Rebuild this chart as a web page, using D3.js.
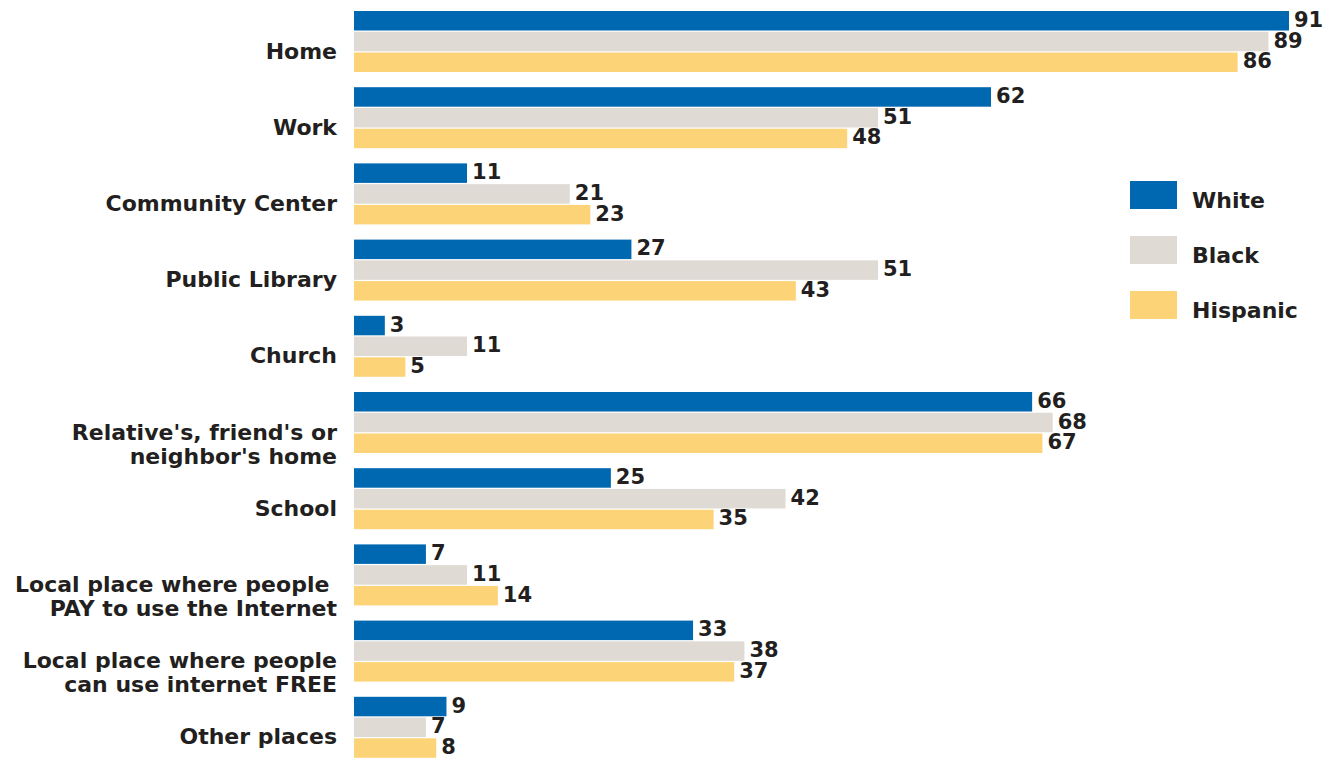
<!DOCTYPE html>
<html><head><meta charset="utf-8">
<script src="https://cdn.jsdelivr.net/npm/d3@7/dist/d3.min.js"></script>
<style>
body{margin:0;background:#fff;}
text{font-family:"DejaVu Sans",sans-serif;font-weight:bold;fill:#231f20;}
</style></head>
<body><svg id="c" width="1334" height="759"></svg>
<script>
const categories = ["Home","Work","Community Center","Public Library","Church","Relative's, friend's or\nneighbor's home","School","Local place where people \nPAY to use the Internet","Local place where people\ncan use internet FREE","Other places"];
const white = [91,62,11,27,3,66,25,7,33,9];
const black = [89,51,21,51,11,68,42,11,38,7];
const hispanic = [86,48,23,43,5,67,35,14,37,8];
const seriesNames = ["White","Black","Hispanic"];
const colors = ["#0068b1","#dfdad4","#fdd378"];

const svg = d3.select("#c");
const x0 = 354;
const x = d3.scaleLinear().domain([0,91]).range([x0,1289]);
const y = d3.scaleBand().domain(categories).range([11,773]).paddingInner(0).paddingOuter(0);
const sub = d3.scaleBand().domain(seriesNames).range([0,61]).paddingInner(0.06);

const series = [white,black,hispanic];
categories.forEach((c,i)=>{
  const g = svg.append("g").attr("transform",`translate(0,${y(c)})`);
  seriesNames.forEach((s,j)=>{
    const v = series[j][i];
    g.append("rect").attr("x",x0).attr("y",sub(s)).attr("width",x(v)-x0).attr("height",sub.bandwidth()).attr("fill",colors[j]);
    g.append("text").attr("x",x(v)+5).attr("y",sub(s)+sub.bandwidth()/2+6).attr("font-size",21).text(v);
  });
  const lines = c.split("\n");
  const cy = y(c)+30.5+9;
  const lh = 24;
  const t = svg.append("text").attr("text-anchor","end").attr("font-size",22);
  lines.forEach((l,k)=>{
    t.append("tspan").attr("x",337).attr("y",cy+8+k*lh).text(l);
  });
});

const lg = svg.append("g");
seriesNames.forEach((s,j)=>{
  lg.append("rect").attr("x",1130).attr("y",181+j*55).attr("width",47).attr("height",28).attr("fill",colors[j]);
  lg.append("text").attr("x",1192).attr("y",208+j*55).attr("font-size",22).text(s);
});
</script></body></html>
